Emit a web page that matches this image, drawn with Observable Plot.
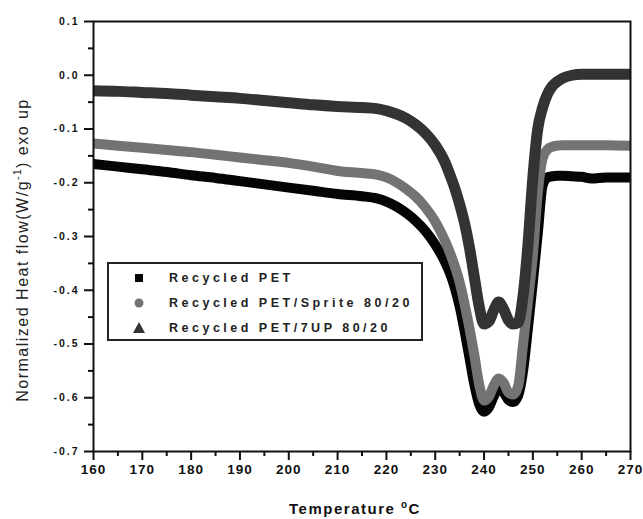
<!DOCTYPE html>
<html>
<head>
<meta charset="utf-8">
<script src="https://cdn.jsdelivr.net/npm/d3@7"></script>
<script src="https://cdn.jsdelivr.net/npm/@observablehq/plot@0.6"></script>
<style>
  body { margin: 0; background: #fff; }
  #chart { position: relative; width: 643px; height: 519px; font-family: "Liberation Sans", Arial, sans-serif; color: #111; }
  #chart svg { display: block; }
  #chart svg .xlab text { letter-spacing: 1px; }
  #chart svg .ylab text { letter-spacing: 2px; }
  .ytitle { position: absolute; left: 22px; top: 250px; transform: translate(-50%, -50%) rotate(-90deg); white-space: nowrap; font-size: 16px; letter-spacing: 1.5px; color: #222; }
  .ytitle sup { font-size: 10px; }
  .xtitle { position: absolute; left: 355px; top: 508px; transform: translate(-50%, -50%); white-space: nowrap; font-size: 15px; font-weight: bold; letter-spacing: 1.5px; color: #111; }
  .xtitle sup { font-size: 10px; }
  .legend { position: absolute; left: 107px; top: 262px; width: 312px; height: 75px; border: 2px solid #222; background: #fff; }
  .legend .row { position: absolute; left: 0; height: 20px; display: flex; align-items: center; }
  .legend .sym { width: 60px; display: flex; justify-content: center; }
  .legend .lab { font-size: 12.5px; font-weight: bold; letter-spacing: 3.5px; color: #222; white-space: nowrap; }
</style>
</head>
<body>
<div id="chart"></div>
<script>
// DSC heating scans: temperature (°C) vs normalized heat flow (W/g, exo up)
const temperature = [160,165,170,175,180,185,190,195,200,205,210,215,218,220,222,224,226,228,230,232,233,234,235,236,237,238,239,240,241,242,243,244,245,246,247,248,249,250,251,252,253,254,255,256,258,260,262,265,270];

const recycledPET = [-0.165,-0.170,-0.175,-0.180,-0.186,-0.191,-0.197,-0.203,-0.209,-0.215,-0.221,-0.225,-0.229,-0.235,-0.244,-0.256,-0.271,-0.290,-0.315,-0.347,-0.368,-0.395,-0.430,-0.475,-0.525,-0.575,-0.612,-0.626,-0.618,-0.597,-0.582,-0.590,-0.604,-0.608,-0.596,-0.550,-0.470,-0.385,-0.295,-0.205,-0.190,-0.188,-0.187,-0.187,-0.188,-0.189,-0.192,-0.190,-0.190];

const petSprite = [-0.127,-0.131,-0.135,-0.139,-0.143,-0.148,-0.153,-0.158,-0.163,-0.170,-0.178,-0.182,-0.185,-0.190,-0.199,-0.211,-0.226,-0.246,-0.272,-0.308,-0.330,-0.355,-0.385,-0.425,-0.470,-0.520,-0.575,-0.605,-0.598,-0.577,-0.564,-0.572,-0.590,-0.594,-0.578,-0.500,-0.420,-0.335,-0.220,-0.155,-0.138,-0.133,-0.131,-0.130,-0.130,-0.130,-0.130,-0.130,-0.131];

const pet7UP = [-0.029,-0.030,-0.032,-0.034,-0.037,-0.040,-0.043,-0.047,-0.051,-0.055,-0.058,-0.060,-0.062,-0.066,-0.072,-0.080,-0.092,-0.108,-0.130,-0.162,-0.185,-0.210,-0.240,-0.275,-0.320,-0.375,-0.430,-0.463,-0.458,-0.437,-0.422,-0.435,-0.456,-0.463,-0.460,-0.410,-0.315,-0.190,-0.100,-0.060,-0.035,-0.020,-0.012,-0.006,0.000,0.002,0.002,0.002,0.002];

const seriesNames = ["Recycled PET", "Recycled PET/Sprite 80/20", "Recycled PET/7UP 80/20"];
const seriesValues = [recycledPET, petSprite, pet7UP];
const seriesColors = ["#050505", "#737373", "#333333"];
const seriesWidths = [10, 10, 11];
const seriesSymbols = ["square", "circle", "triangle"];

const xTicks = [160,170,180,190,200,210,220,230,240,250,260,270];
const xMinorTicks = [165,175,185,195,205,215,225,235,245,255,265];
const yTicks = [0.1,0.0,-0.1,-0.2,-0.3,-0.4,-0.5,-0.6,-0.7];
const yMinorTicks = [0.05,-0.05,-0.15,-0.25,-0.35,-0.45,-0.55,-0.65];

const rows = seriesNames.flatMap((name, i) =>
  temperature.map((t, j) => ({series: name, temperature: t, heatFlow: seriesValues[i][j]}))
);

const lineMarks = seriesNames.map((name, i) =>
  Plot.line(rows.filter(d => d.series === name), {
    x: "temperature", y: "heatFlow",
    stroke: seriesColors[i], strokeWidth: seriesWidths[i],
    curve: "monotone-x", strokeLinejoin: "round", strokeLinecap: "butt"
  })
);

const chart = Plot.plot({
  width: 643,
  height: 519,
  marginLeft: 93,
  marginTop: 21,
  marginRight: 13,
  marginBottom: 68,
  style: {fontFamily: "'Liberation Sans', Arial, sans-serif", color: "#111", background: "white"},
  x: {domain: [160, 270]},
  y: {domain: [-0.7, 0.1]},
  marks: [
    ...lineMarks,
    Plot.frame({stroke: "#111", strokeWidth: 2}),
    // tick marks (major and minor)
    Plot.axisX({ticks: xTicks, tickSize: 9, tickFormat: () => "", strokeWidth: 2, label: null}),
    Plot.axisX({ticks: xMinorTicks, tickSize: 5, tickFormat: () => "", strokeWidth: 2, label: null}),
    Plot.axisY({ticks: yTicks, tickSize: 9, tickFormat: () => "", strokeWidth: 2, label: null}),
    Plot.axisY({ticks: yMinorTicks, tickSize: 5, tickFormat: () => "", strokeWidth: 2, label: null}),
    // tick labels
    Plot.text(xTicks, {x: d => d, text: d => String(d), frameAnchor: "bottom", dy: 22, fontSize: 13.5, fontWeight: "bold", fill: "#111", className: "xlab"}),
    Plot.text(yTicks, {y: d => d, text: d => d.toFixed(1), frameAnchor: "left", dx: -14, textAnchor: "end", fontSize: 10.5, fontWeight: "bold", fill: "#111", className: "ylab"})
  ]
});

const root = document.getElementById("chart");
root.appendChild(chart);

// axis titles
const yTitle = document.createElement("div");
yTitle.className = "ytitle";
yTitle.innerHTML = "Normalized Heat flow(W/g<sup>-1</sup>) exo up";
root.appendChild(yTitle);

const xTitle = document.createElement("div");
xTitle.className = "xtitle";
xTitle.innerHTML = "Temperature <sup>o</sup>C";
root.appendChild(xTitle);

// legend box
const legend = document.createElement("div");
legend.className = "legend";
seriesNames.forEach((name, i) => {
  const row = document.createElement("div");
  row.className = "row";
  row.style.top = (4 + i * 25) + "px";
  const sym = document.createElement("div");
  sym.className = "sym";
  const c = seriesColors[i];
  let shape;
  if (seriesSymbols[i] === "square") shape = `<rect x="3" y="3" width="8" height="8" fill="${c}"/>`;
  else if (seriesSymbols[i] === "circle") shape = `<circle cx="7" cy="7" r="4.5" fill="${c}"/>`;
  else shape = `<polygon points="7,1 13,12 1,12" fill="${c}"/>`;
  sym.innerHTML = `<svg width="14" height="14">${shape}</svg>`;
  const lab = document.createElement("div");
  lab.className = "lab";
  lab.textContent = name;
  row.appendChild(sym);
  row.appendChild(lab);
  legend.appendChild(row);
});
root.appendChild(legend);
</script>
</body>
</html>
